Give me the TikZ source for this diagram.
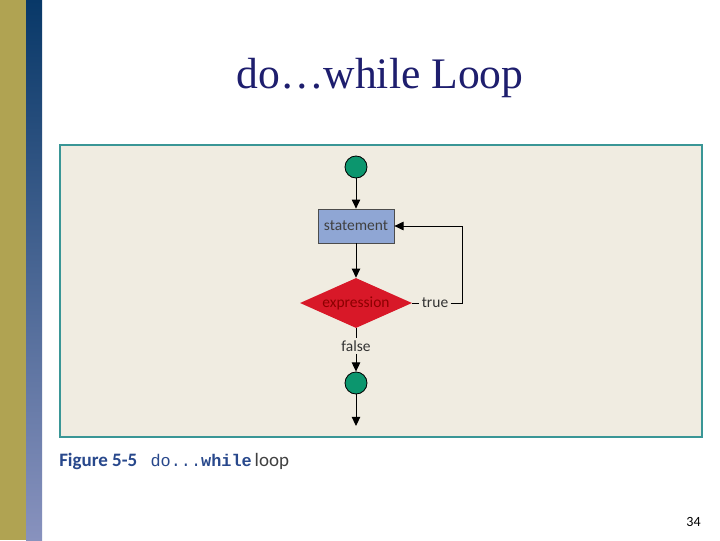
\documentclass[tikz,border=0pt]{standalone}
\usepackage{fontspec}
\setmainfont{Liberation Serif}
\setsansfont{Carlito}
\setmonofont{Liberation Mono}
\usetikzlibrary{arrows.meta,shapes.geometric}

\definecolor{olivebar}{RGB}{176,163,82}
\definecolor{navytop}{RGB}{8,56,104}
\definecolor{navybot}{RGB}{136,146,190}
\definecolor{titleblue}{RGB}{30,30,110}
\definecolor{panelfill}{RGB}{240,236,225}
\definecolor{panelline}{RGB}{58,150,150}
\definecolor{termgreen}{RGB}{12,150,110}
\definecolor{stmtblue}{RGB}{143,166,212}
\definecolor{exprred}{RGB}{216,24,40}
\definecolor{captionblue}{RGB}{40,72,140}

\tikzset{
  flowarrow/.style={-{Triangle[length=6.5pt,width=6pt]},line width=0.7pt},
  flowline/.style={line width=0.7pt},
  terminal/.style={circle,draw=black,line width=0.6pt,fill=termgreen,
    minimum size=0.55cm,inner sep=0pt},
  stmtbox/.style={rectangle,draw=black!70,line width=0.5pt,fill=stmtblue,
    minimum width=1.9cm,minimum height=0.85cm,inner sep=0pt,
    font=\sffamily\fontsize{11}{12}\selectfont,text=black!75},
  decision/.style={diamond,aspect=2.24,fill=exprred,inner sep=0pt,
    minimum width=2.8cm,minimum height=1.25cm,
    font=\sffamily\fontsize{11}{12}\selectfont,text=red!55!black},
  flowlabel/.style={font=\sffamily\fontsize{11}{12}\selectfont,text=black!80,
    inner sep=1.5pt}
}

\begin{document}
\begin{tikzpicture}[x=0.025cm,y=-0.025cm]
    % page size
      \def\pagew{720}
      \def\pageh{540}
    % column of the flow chart
      \def\xflow{356}
    % right edge of the loop back line
      \def\xloop{462}

      \useasboundingbox (0,0) rectangle (\pagew,\pageh);
      \fill[white] (0,0) rectangle (\pagew,\pageh);

    % Draw the side bars
      \fill[olivebar] (0,0) rectangle (26,\pageh);
      \shade[top color=navytop,bottom color=navybot] (26,0) rectangle (42,\pageh);

    % Draw the title
      \node (title) at (380,78) {\fontsize{31}{36}\selectfont\color{titleblue}do\ldots while Loop};

    % Draw the panel
      \draw[panelline,line width=1.4pt,fill=panelfill] (60,145) rectangle (702,437);

    % Draw the chart nodes
      \node[terminal] (start) at (\xflow,167) {};
      \node[stmtbox]  (stmt)  at (\xflow,226) {statement};
      \node[decision] (expr)  at (\xflow,303) {expression};
      \node[flowlabel] (true)  at (435,303) {true};
      \node[flowlabel] (false) at (\xflow,346) {false};
      \node[terminal] (stop)  at (\xflow,383) {};
      \coordinate (out)  at (\xflow,426);
      \coordinate (back) at (\xloop,226);

    % Draw the connectors
      \draw[flowarrow] (start) -- (stmt);
      \draw[flowarrow] (stmt) -- (expr);
      \draw[flowline]  (expr) -- (true);
      \draw[flowarrow] (true.east) -| (back) -- (stmt.east);
      \draw[flowline]  (expr) -- (false);
      \draw[flowarrow] (false) -- (stop);
      \draw[flowarrow] (stop) -- (out);

    % Draw the caption
      \node[anchor=west,inner sep=0pt] (caption) at (59,461)
        {\sffamily\fontsize{13.5}{15}\selectfont\textcolor{captionblue}{\bfseries Figure 5-5}\hspace{0.7em}%
         \textcolor{captionblue}{\fontsize{12}{15}\selectfont\ttfamily do...\bfseries while}\hspace{0.15em}\textcolor{black!75}{loop}};

    % Draw the page number
      \node[anchor=east,inner sep=0pt] (pagenum) at (701,522)
        {\sffamily\fontsize{10}{12}\selectfont 34};
\end{tikzpicture}
\end{document}
